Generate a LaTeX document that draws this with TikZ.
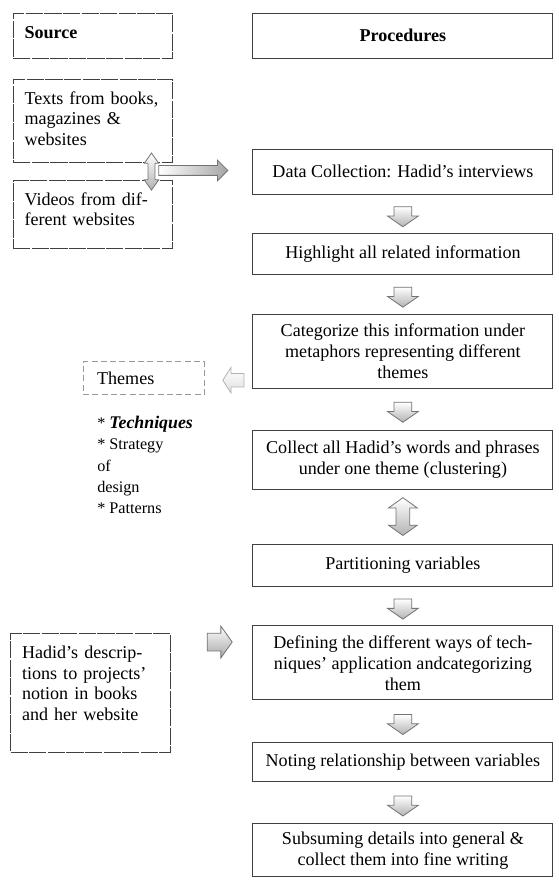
\documentclass[tikz,border=0pt]{standalone}
\usepackage{fontspec}
\setmainfont{Liberation Serif}
\usetikzlibrary{shapes.arrows,calc}

\tikzstyle{block} = [draw = black!75, line width = 0.75pt, align = center, minimum width = 7.94cm, inner sep = 0pt]
\tikzstyle{source} = [draw = black!75, line width = 0.75pt, dash pattern = on 13pt off 1pt, align = left, text width = 3.62cm, inner xsep = 0.305cm, inner ysep = 0.3cm, text height = 0.35cm, anchor = north]
\tikzstyle{theme} = [draw = black!40, line width = 0.75pt, dash pattern = on 4.5pt off 2.5pt, align = left, text width = 2.46cm, inner xsep = 0.37cm, minimum height = 0.87cm]
\tikzstyle{down} = [single arrow, draw = black!55, line width = 0.6pt, top color = white, bottom color = black!30, shape border rotate = 270, minimum height = 0.53cm, inner xsep = 0.225cm, inner ysep = 0pt, single arrow head extend = 0.17cm, single arrow tip angle = 110]
\tikzstyle{updown} = [double arrow, draw = black!55, line width = 0.6pt, top color = white, bottom color = black!30, shape border rotate = 90, minimum height = 1.0cm, inner xsep = 0.17cm, inner ysep = 0pt, double arrow head extend = 0.2cm, double arrow tip angle = 109]
\tikzstyle{side} = [single arrow, draw = black!55, line width = 0.6pt, top color = white, bottom color = black!35, inner xsep = 0pt]

\begin{document}
\begin{tikzpicture}[font = \fontsize{13.6pt}{15.75pt}\selectfont]
	\useasboundingbox (0, 0) rectangle (14.764, -23.283);

	% procedures column
	\node [block, minimum height = 1.19cm] at (10.66, -0.94) (1) {\textbf{Procedures}};
	\node [block, minimum height = 1.19cm] at (10.66, -4.54) (2) {Data Collection: Hadid’s interviews};
	\node [block, minimum height = 1.08cm] at (10.66, -6.71) (3) {Highlight all related information};
	\node [block, minimum height = 1.96cm] at (10.66, -9.29) (4) {Categorize this information under\\metaphors representing different\\themes};
	\node [block, minimum height = 1.56cm] at (10.66, -12.16) (5) {Collect all Hadid’s words and phrases\\under one theme (clustering)};
	\node [block, minimum height = 1.11cm] at (10.66, -14.95) (6) {Partitioning variables};
	\node [block, minimum height = 1.96cm] at (10.66, -17.54) (7) {Defining the different ways of tech-\\niques’ application andcategorizing\\them};
	\node [block, minimum height = 1.03cm] at (10.66, -20.17) (8) {Noting relationship between variables};
	\node [block, minimum height = 1.40cm] at (10.66, -22.50) (9) {Subsuming details into general \&\\collect them into fine writing};

	% source column
	\node [source, text depth = 0.24cm] at (2.46, -0.344) (10) {\textbf{Source}};
	\node [source, text depth = 1.25cm] at (2.46, -2.09) (11) {Texts from books,\\magazines \&\\websites};
	\node [source, text depth = 0.85cm] at (2.46, -4.762) (12) {Videos from dif-\\ferent websites};
	\node [source, text depth = 2.2cm] at (2.394, -16.748) (13) {Hadid’s descrip-\\tions to projects’\\notion in books\\and her website};
	\node [theme] at (3.80, -10.01) (14) {Themes};
	\node [anchor = north west, inner sep = 0pt, align = left, font = \fontsize{12.2pt}{16.1pt}\selectfont] at (2.566, -11.0) (15) {* {\fontsize{13.4pt}{16.1pt}\selectfont\textbf{\textit{Techniques}}}\\* Strategy\\of\\design\\* Patterns};

	% block arrows
	\node [down] at ($(2.south)!0.5!(3.north)$) (a2) {};
	\node [down] at ($(3.south)!0.5!(4.north)$) (a3) {};
	\node [down] at ($(4.south)!0.5!(5.north)$) (a4) {};
	\node [updown] at ($(5.south)!0.5!(6.north)$) (a5) {};
	\node [down] at ($(6.south)!0.5!(7.north)$) (a6) {};
	\node [down] at ($(7.south)!0.5!(8.north)$) (a7) {};
	\node [down] at ($(8.south)!0.5!(9.north)$) (a8) {};

	\node [updown, minimum height = 0.98cm, inner xsep = 0.08cm, double arrow head extend = 0.1cm, double arrow tip angle = 70] at ($(11.south east)!0.5!(12.north east) + (-0.58, 0)$) (a0) {};
	\node [side, left color = white, right color = black!35, anchor = tail, minimum height = 1.83cm, inner ysep = 0.12cm, single arrow head extend = 0.145cm, single arrow tip angle = 90] at ($(a0) + (0.18, 0.03)$) (a1) {};
	\node [side, draw = black!30, top color = white, bottom color = black!12, shape border rotate = 180, anchor = tail, minimum height = 0.56cm, inner ysep = 0.17cm, single arrow head extend = 0.16cm, single arrow tip angle = 115] at ($(4.west |- 14.east) + (-0.21, -0.05)$) (a9) {};
	\node [side, minimum height = 0.66cm, inner ysep = 0.225cm, single arrow head extend = 0.185cm, single arrow tip angle = 109] at ($(13.north east)!0.5!(7.north west) + (0.13, -0.34)$) (a10) {};
\end{tikzpicture}
\end{document}
